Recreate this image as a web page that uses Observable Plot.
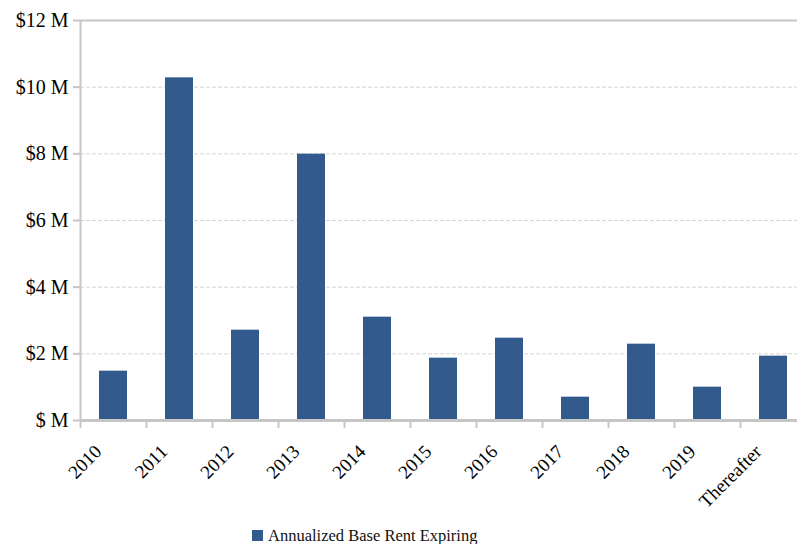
<!DOCTYPE html>
<html>
<head>
<meta charset="utf-8">
<script src="https://cdn.jsdelivr.net/npm/d3@7"></script>
<script src="https://cdn.jsdelivr.net/npm/@observablehq/plot@0.6"></script>
<style>
  html, body { margin: 0; padding: 0; background: #fff; }
  #wrap { width: 797px; height: 544px; overflow: hidden; position: relative; font-family: "Liberation Serif", "Times New Roman", serif; }
  #chart svg { max-width: none !important; width: 806px; height: 524px; }
  #legend { position: absolute; left: 252px; top: 527px; height: 17px; line-height: 17px; font-size: 16.5px; color: #111; display: flex; align-items: center; white-space: nowrap; }
  #legend .sw { width: 11px; height: 11px; background: #335a8d; margin-right: 5px; }
</style>
</head>
<body>
<div id="wrap"><div id="chart"></div><div id="legend"></div></div>
<script>
const categories = ["2010", "2011", "2012", "2013", "2014", "2015", "2016", "2017", "2018", "2019", "Thereafter"];
const rentExpiring = [1.48, 10.28, 2.71, 7.99, 3.1, 1.87, 2.47, 0.7, 2.29, 1.0, 1.93]; // $ millions
const yTicks = [0, 2, 4, 6, 8, 10, 12];
const yTickLabels = ["$ M", "$2 M", "$4 M", "$6 M", "$8 M", "$10 M", "$12 M"];
const seriesName = "Annualized Base Rent Expiring";

const data = categories.map((c, i) => ({category: c, value: rentExpiring[i]}));
const barColor = "#335a8d";
const axisGray = "#c6c6c6";

const chart = Plot.plot({
  width: 806,
  height: 524,
  marginLeft: 80,
  marginRight: 0,
  marginTop: 20,
  marginBottom: 104,
  style: {fontFamily: "'Liberation Serif', 'Times New Roman', serif", fontSize: "20px", color: "#000", background: "#fff", maxWidth: "none"},
  x: {domain: categories, paddingInner: 0.576, paddingOuter: 0.288, label: null},
  y: {domain: [0, 12], label: null},
  marks: [
    Plot.gridY(yTicks.slice(1, -1), {stroke: "#d4d4d4", strokeOpacity: 1, strokeDasharray: "4,2"}),
    Plot.barY(data, {x: "category", y: "value", fill: barColor}),
    Plot.ruleY([12], {stroke: axisGray, strokeWidth: 2}),
    Plot.ruleY([0], {stroke: axisGray, strokeWidth: 3}),
    Plot.ruleX([categories[0]], {y1: 0, y2: 12, dx: -33, stroke: axisGray, strokeWidth: 2}),
    Plot.axisX({tickSize: 8, dx: -33, tickFormat: () => "", stroke: axisGray, strokeWidth: 2}),
    Plot.axisX({tickSize: 0, tickRotate: -45, tickPadding: 28, dx: -15, fill: "#000", fontSize: 19}),
    Plot.axisY({ticks: yTicks, tickSize: 7, tickPadding: 5, stroke: axisGray, strokeWidth: 2, fill: "#000",
      tickFormat: d => yTickLabels[yTicks.indexOf(d)]})
  ]
});
document.getElementById("chart").appendChild(chart);
document.getElementById("legend").innerHTML = `<div class="sw"></div><span>${seriesName}</span>`;
</script>
</body>
</html>
